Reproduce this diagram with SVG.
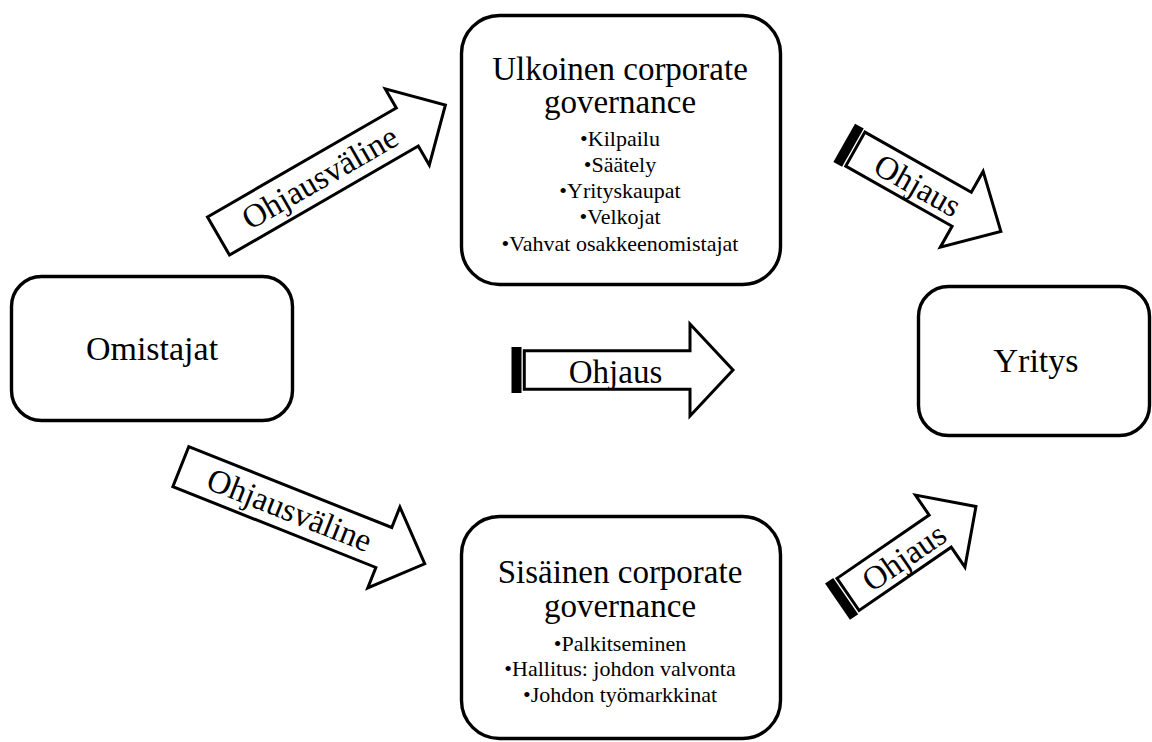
<svg xmlns="http://www.w3.org/2000/svg" width="1152" height="742" viewBox="0 0 1152 742">
<style>
.box{fill:#fff;stroke:#000;stroke-width:3.4}
.arr{fill:#fff;stroke:#000;stroke-width:3;stroke-linejoin:miter}
.bar{fill:#000}
text{font-family:"Liberation Serif","Times New Roman",serif;fill:#000;text-anchor:middle}
.big{font-size:34px}
.ttl{font-size:33px}
.itm{font-size:22px}
.lbl{font-size:33px}
</style>
<rect width="1152" height="742" fill="#fff"/>
<g id="connectors">
  <g id="arrow-top-left" transform="translate(218.5,236) rotate(-30)">
    <polygon class="arr" points="0,-22 218,-22 218,-44 262,0 218,44 218,22 0,22"/>
    <text class="lbl" x="117" y="11">Ohjausväline</text>
  </g>
  <g id="arrow-bottom-left" transform="translate(180.8,466.7) rotate(21.7)">
    <polygon class="arr" points="0,-21.5 218.5,-21.5 218.5,-43.5 262.5,0 218.5,43.5 218.5,21.5 0,21.5"/>
    <text class="lbl" x="117" y="11">Ohjausväline</text>
  </g>
  <g id="arrow-center" transform="translate(511.5,370)">
    <rect class="bar" x="0" y="-23" width="10" height="46"/>
    <polygon class="arr" points="12.8,-19.3 178.5,-19.3 178.5,-46 221.5,0 178.5,46 178.5,19.3 12.8,19.3"/>
    <text class="lbl" x="104" y="12.5">Ohjaus</text>
  </g>
  <g id="arrow-top-right" transform="translate(844.2,142.8) rotate(29.5)">
    <rect class="bar" x="0" y="-22" width="10" height="44"/>
    <polygon class="arr" points="12.8,-19.5 135,-19.5 135,-43.5 180,0 135,43.5 135,19.5 12.8,19.5"/>
    <text class="lbl" x="85" y="12">Ohjaus</text>
  </g>
  <g id="arrow-bottom-right" transform="translate(837.5,601.7) rotate(-34.5)">
    <rect class="bar" x="0" y="-22" width="10" height="44"/>
    <polygon class="arr" points="12.8,-19.5 124.6,-19.5 124.6,-43.7 168,0 124.6,43.7 124.6,19.5 12.8,19.5"/>
    <text class="lbl" x="80" y="12">Ohjaus</text>
  </g>
</g>
<g id="node-omistajat">
  <rect class="box" x="11.5" y="276.5" width="281" height="144" rx="30"/>
  <text class="big" x="152" y="360">Omistajat</text>
</g>
<g id="node-yritys">
  <rect class="box" x="918.5" y="286.5" width="231" height="149" rx="30"/>
  <text class="big" x="1036" y="372">Yritys</text>
</g>
<g id="node-ulkoinen">
  <rect class="box" x="461.5" y="15.5" width="319" height="269" rx="38"/>
  <text class="ttl" x="620" y="80">Ulkoinen corporate</text>
  <text class="ttl" x="620" y="113">governance</text>
  <text class="itm" x="620" y="145.5">•Kilpailu</text>
  <text class="itm" x="620" y="171.7">•Säätely</text>
  <text class="itm" x="620" y="198">•Yrityskaupat</text>
  <text class="itm" x="620" y="224.2">•Velkojat</text>
  <text class="itm" x="620" y="250.5">•Vahvat osakkeenomistajat</text>
</g>
<g id="node-sisainen">
  <rect class="box" x="461.5" y="516.5" width="319" height="222" rx="38"/>
  <text class="ttl" x="620" y="582.5">Sisäinen corporate</text>
  <text class="ttl" x="620" y="617">governance</text>
  <text class="itm" x="620" y="650.5">•Palkitseminen</text>
  <text class="itm" x="620" y="676">•Hallitus: johdon valvonta</text>
  <text class="itm" x="620" y="702">•Johdon työmarkkinat</text>
</g>
</svg>
